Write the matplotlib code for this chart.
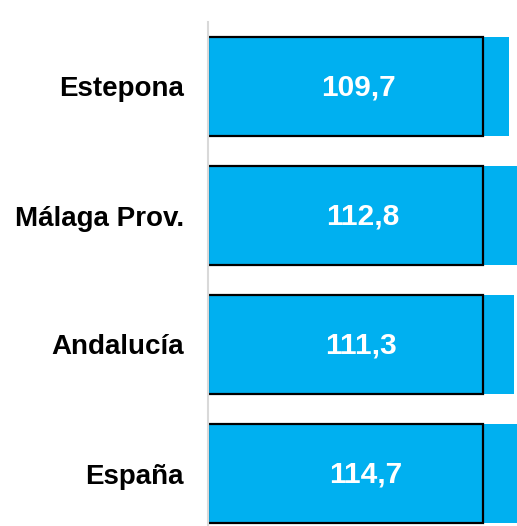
import matplotlib.pyplot as plt

# datos
regiones = ['Estepona', 'Málaga Prov.', 'Andalucía', 'España']
valores = [109.7, 112.8, 111.3, 114.7]
base = [100, 100, 100, 100]
etiquetas = ['109,7', '112,8', '111,3', '114,7']

plt.rcParams['font.family'] = ['Liberation Sans', 'DejaVu Sans']

fig = plt.figure(figsize=(5.17, 5.26), dpi=100)
# ejes: izquierda en x=207.5 px, arriba en y=22 px, hasta el borde derecho e inferior
ax = fig.add_axes([207.5 / 517, 0, 1 - 207.5 / 517, (526 - 22) / 526])

pos = list(range(len(regiones)))
ax.barh(pos, valores, height=0.775, color='#00B0F0', zorder=1)
ax.barh(pos, base, height=0.775, facecolor='none', edgecolor='black',
        linewidth=1.6, zorder=2)

for y, v, t in zip(pos, valores, etiquetas):
    ax.text(v / 2, y + 0.01, t, ha='center', va='center', color='white',
            fontsize=21.5, fontweight='bold', zorder=3)

ax.set_xlim(0, 112.5)
ax.set_ylim(-0.5 + 504 / 129, -0.5)
ax.set_yticks(pos)
ax.set_yticklabels(regiones, fontsize=20, fontweight='bold')
ax.tick_params(axis='y', length=0, pad=17)
ax.set_xticks([])

for s in ['top', 'right', 'bottom']:
    ax.spines[s].set_visible(False)
ax.spines['left'].set_color('#d9d9d9')
ax.spines['left'].set_linewidth(1.5)
ax.spines['left'].set_zorder(4)

fig.savefig('out.png', dpi=100)
